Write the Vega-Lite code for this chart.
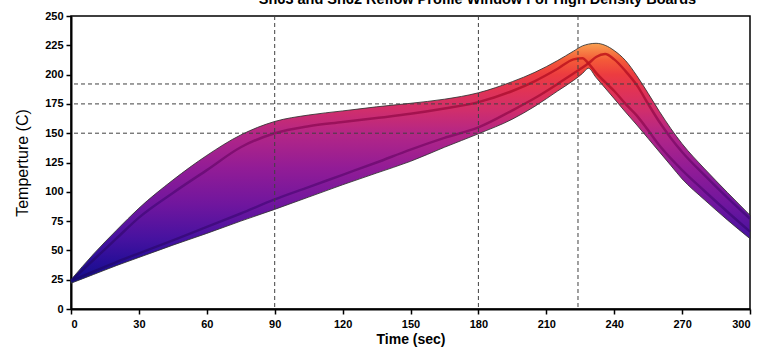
{
  "$schema": "https://vega.github.io/schema/vega-lite/v6.json",
  "width": 679,
  "height": 293,
  "autosize": {"type": "none"},
  "padding": {"left": 71, "top": 16, "right": 21, "bottom": 45},
  "title": {
    "text": "Sn63 and Sn62 Reflow Profile Window For High Density Boards",
    "font": "Liberation Sans",
    "fontSize": 14.5,
    "fontWeight": "bold",
    "color": "#000000",
    "anchor": "middle",
    "dx": 67,
    "offset": 3
  },
  "config": {
    "view": {"stroke": "#000000", "strokeWidth": 1.5},
    "axis": {
      "domainColor": "#000000",
      "domainWidth": 2,
      "tickColor": "#000000",
      "tickWidth": 1.5,
      "tickSize": 5,
      "grid": false,
      "labelFont": "Liberation Sans",
      "labelFontWeight": "bold",
      "labelFontSize": 11,
      "labelColor": "#000000",
      "labelOverlap": false,
      "titleColor": "#000000",
      "titleFont": "Liberation Sans"
    }
  },
  "datasets": {
    "band": [
      {"t": 0, "upper": 25, "lower": 22, "a": 24, "b": 24},
      {"t": 10, "upper": 47, "lower": 29.5, "a": 42, "b": 32},
      {"t": 20, "upper": 67, "lower": 37, "a": 60, "b": 40},
      {"t": 30, "upper": 86, "lower": 44, "a": 78, "b": 47.5},
      {"t": 45, "upper": 110, "lower": 54.5, "a": 99, "b": 58.5},
      {"t": 60, "upper": 131, "lower": 64.5, "a": 118.5, "b": 70},
      {"t": 75, "upper": 148.5, "lower": 75, "a": 138, "b": 81.5},
      {"t": 90, "upper": 160, "lower": 85, "a": 150, "b": 93.5},
      {"t": 105, "upper": 165.5, "lower": 95.5, "a": 156, "b": 104},
      {"t": 120, "upper": 169, "lower": 106, "a": 159.5, "b": 114.5},
      {"t": 135, "upper": 172.5, "lower": 116, "a": 163, "b": 125},
      {"t": 150, "upper": 175.5, "lower": 126, "a": 166.5, "b": 136},
      {"t": 165, "upper": 179, "lower": 138, "a": 171, "b": 146},
      {"t": 180, "upper": 184.5, "lower": 149.5, "a": 176.5, "b": 155},
      {"t": 195, "upper": 194, "lower": 162, "a": 186, "b": 169.5},
      {"t": 205, "upper": 202, "lower": 173, "a": 194.5, "b": 180},
      {"t": 215, "upper": 212, "lower": 186, "a": 205, "b": 192},
      {"t": 222, "upper": 220, "lower": 195, "a": 213, "b": 201},
      {"t": 226, "upper": 224.5, "lower": 201, "a": 214, "b": 206},
      {"t": 228.6, "upper": 226, "lower": 205.4, "a": 209.6, "b": 209.6},
      {"t": 232, "upper": 226.7, "lower": 197.5, "a": 201.5, "b": 215},
      {"t": 236, "upper": 225, "lower": 188.5, "a": 193.5, "b": 217.5},
      {"t": 240, "upper": 220.5, "lower": 179.5, "a": 186, "b": 213},
      {"t": 245, "upper": 212, "lower": 168, "a": 175, "b": 203},
      {"t": 250, "upper": 199, "lower": 157, "a": 165, "b": 191},
      {"t": 255, "upper": 184, "lower": 145.5, "a": 152.5, "b": 175},
      {"t": 260, "upper": 168.5, "lower": 134, "a": 139.5, "b": 159.5},
      {"t": 265, "upper": 154, "lower": 122.5, "a": 128.5, "b": 146},
      {"t": 270, "upper": 141, "lower": 111, "a": 118.5, "b": 134},
      {"t": 280, "upper": 119.5, "lower": 93, "a": 100.5, "b": 114},
      {"t": 290, "upper": 99.5, "lower": 76, "a": 83, "b": 95},
      {"t": 300, "upper": 80, "lower": 60, "a": 66, "b": 77}
    ],
    "vlines": [{"x": 90}, {"x": 180}, {"x": 224}],
    "hlines": [{"y": 150}, {"y": 175}, {"y": 192}]
  },
  "layer": [
    {
      "data": {"name": "band"},
      "mark": {
        "type": "area",
        "interpolate": "monotone",
        "stroke": "#303030",
        "strokeWidth": 1,
        "strokeOpacity": 0.85,
        "fill": {
          "gradient": "linear",
          "x1": 0, "y1": 1, "x2": 0, "y2": 0,
          "stops": [
            {"offset": 0, "color": "#10108a"},
            {"offset": 0.09, "color": "#280e98"},
            {"offset": 0.19, "color": "#4812a0"},
            {"offset": 0.33, "color": "#70169e"},
            {"offset": 0.48, "color": "#921c96"},
            {"offset": 0.625, "color": "#b42686"},
            {"offset": 0.72, "color": "#d02e6c"},
            {"offset": 0.8, "color": "#e03356"},
            {"offset": 0.87, "color": "#ec3c40"},
            {"offset": 0.93, "color": "#f45a38"},
            {"offset": 1, "color": "#f8a050"}
          ]
        }
      },
      "encoding": {
        "x": {
          "field": "t", "type": "quantitative",
          "scale": {"domain": [0, 300], "nice": false},
          "axis": {"values": [0, 30, 60, 90, 120, 150, 180, 210, 240, 270, 300], "labelOverlap": false, "title": "Time (sec)", "titleFontSize": 14, "titleFontWeight": "bold", "titlePadding": 3, "labelPadding": 4}
        },
        "y": {
          "field": "upper", "type": "quantitative",
          "scale": {"domain": [0, 250], "nice": false},
          "axis": {"values": [0, 25, 50, 75, 100, 125, 150, 175, 200, 225, 250], "labelOverlap": false, "title": "Temperture (C)", "titleFontSize": 16, "titleFontWeight": "normal", "titlePadding": 14, "labelPadding": 3}
        },
        "y2": {"field": "lower"}
      }
    },
    {
      "data": {"name": "band"},
      "mark": {
        "type": "line",
        "interpolate": "monotone",
        "strokeWidth": 2.5,
        "strokeOpacity": 0.85,
        "stroke": {
          "gradient": "linear",
          "x1": 0, "y1": 1, "x2": 0, "y2": 0,
          "stops": [
            {"offset": 0, "color": "#16086e"},
            {"offset": 0.35, "color": "#4e0a80"},
            {"offset": 0.65, "color": "#880c66"},
            {"offset": 0.85, "color": "#b0102e"},
            {"offset": 1, "color": "#c0141a"}
          ]
        }
      },
      "encoding": {
        "x": {
          "field": "t", "type": "quantitative",
          "scale": {"domain": [0, 300], "nice": false},
          "axis": {"values": [0, 30, 60, 90, 120, 150, 180, 210, 240, 270, 300], "labelOverlap": false, "title": "Time (sec)", "titleFontSize": 14, "titleFontWeight": "bold", "titlePadding": 3, "labelPadding": 4}
        },
        "y": {
          "field": "a", "type": "quantitative",
          "scale": {"domain": [0, 250], "nice": false},
          "axis": {"values": [0, 25, 50, 75, 100, 125, 150, 175, 200, 225, 250], "labelOverlap": false, "title": "Temperture (C)", "titleFontSize": 16, "titleFontWeight": "normal", "titlePadding": 14, "labelPadding": 3}
        }
      }
    },
    {
      "data": {"name": "band"},
      "mark": {
        "type": "line",
        "interpolate": "monotone",
        "strokeWidth": 2.5,
        "strokeOpacity": 0.85,
        "stroke": {
          "gradient": "linear",
          "x1": 0, "y1": 1, "x2": 0, "y2": 0,
          "stops": [
            {"offset": 0, "color": "#16086e"},
            {"offset": 0.35, "color": "#4e0a80"},
            {"offset": 0.65, "color": "#880c66"},
            {"offset": 0.85, "color": "#b0102e"},
            {"offset": 1, "color": "#c0141a"}
          ]
        }
      },
      "encoding": {
        "x": {
          "field": "t", "type": "quantitative",
          "scale": {"domain": [0, 300], "nice": false},
          "axis": {"values": [0, 30, 60, 90, 120, 150, 180, 210, 240, 270, 300], "labelOverlap": false, "title": "Time (sec)", "titleFontSize": 14, "titleFontWeight": "bold", "titlePadding": 3, "labelPadding": 4}
        },
        "y": {
          "field": "b", "type": "quantitative",
          "scale": {"domain": [0, 250], "nice": false},
          "axis": {"values": [0, 25, 50, 75, 100, 125, 150, 175, 200, 225, 250], "labelOverlap": false, "title": "Temperture (C)", "titleFontSize": 16, "titleFontWeight": "normal", "titlePadding": 14, "labelPadding": 3}
        }
      }
    },
    {
      "data": {"name": "vlines"},
      "mark": {"type": "rule", "color": "#404040", "strokeWidth": 1, "strokeDash": [4, 3]},
      "encoding": {
        "x": {
          "field": "x", "type": "quantitative",
          "scale": {"domain": [0, 300], "nice": false},
          "axis": {"values": [0, 30, 60, 90, 120, 150, 180, 210, 240, 270, 300], "labelOverlap": false, "title": "Time (sec)", "titleFontSize": 14, "titleFontWeight": "bold", "titlePadding": 3, "labelPadding": 4}
        }
      }
    },
    {
      "data": {"name": "hlines"},
      "mark": {"type": "rule", "color": "#404040", "strokeWidth": 1, "strokeDash": [4, 3]},
      "encoding": {
        "y": {
          "field": "y", "type": "quantitative",
          "scale": {"domain": [0, 250], "nice": false},
          "axis": {"values": [0, 25, 50, 75, 100, 125, 150, 175, 200, 225, 250], "labelOverlap": false, "title": "Temperture (C)", "titleFontSize": 16, "titleFontWeight": "normal", "titlePadding": 14, "labelPadding": 3}
        }
      }
    }
  ]
}
